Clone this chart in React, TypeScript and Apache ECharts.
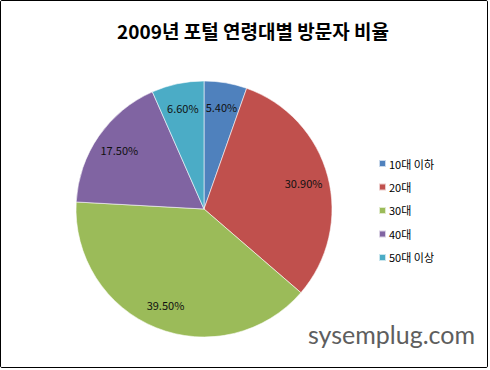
import React, { useEffect, useRef } from "react";
import * as echarts from "echarts";

const titleText = "2009년 포털 연령대별 방문자 비율";
const categories = ["10대 이하", "20대", "30대", "40대", "50대 이상"];
const values = [5.4, 30.9, 39.5, 17.5, 6.6];
const colors = ["#4F81BD", "#C0504D", "#9BBB59", "#8064A2", "#4BACC6"];
const watermark = "sysemplug.com";

export default function App() {
  const ref = useRef<HTMLDivElement>(null);
  useEffect(() => {
    if (!ref.current) return;
    const chart = echarts.init(ref.current, undefined, { renderer: "svg" });
    const data = categories.map((name, i) => ({
      name,
      value: values[i],
      itemStyle: { color: colors[i] },
    }));
    const font = "'Noto Sans CJK KR', 'Noto Sans', sans-serif";
    chart.setOption({
      animation: false,
      backgroundColor: "#ffffff",
      title: {
        text: titleText,
        left: 248,
        textAlign: "center",
        top: 16,
        textStyle: { fontFamily: font, fontSize: 19, fontWeight: "bold", color: "#000" },
      },
      legend: {
        orient: "vertical",
        left: 373,
        top: 153,
        itemWidth: 7,
        itemHeight: 7,
        itemGap: 12.5,
        icon: "rect",
        data: categories,
        textStyle: { fontFamily: font, fontSize: 11, color: "#000", padding: [0, 0, 0, -2] },
      },
      graphic: [
        {
          type: "text",
          left: 308,
          top: 321,
          style: {
            text: watermark,
            fontFamily: "Lato, 'Open Sans', sans-serif",
            fontSize: 25,
            fill: "#5e5e5e",
            shadowColor: "rgba(0,0,0,0.35)",
            shadowBlur: 3,
            shadowOffsetX: 1,
            shadowOffsetY: 1,
          },
        },
      ],
      series: [
        {
          type: "pie",
          center: [204, 209],
          radius: [0, 128],
          startAngle: 90,
          clockwise: true,
          label: { show: false },
          labelLine: { show: false },
          itemStyle: { borderColor: "rgba(255,255,255,0.7)", borderWidth: 0.8 },
          emphasis: { disabled: true },
          data,
        },
        {
          type: "pie",
          center: [204, 209],
          radius: [72, 128],
          startAngle: 90,
          clockwise: true,
          silent: true,
          legendHoverLink: false,
          itemStyle: { color: "rgba(0,0,0,0)" },
          label: {
            show: true,
            position: "inside",
            formatter: (p: any) => p.value.toFixed(2) + "%",
            fontFamily: font,
            fontSize: 11,
            color: "#111",
          },
          labelLine: { show: false },
          emphasis: { disabled: true },
          data: categories.map((name, i) => ({ name, value: values[i] })),
        },
      ],
    });
    return () => chart.dispose();
  }, []);
  return (
    <div
      style={{
        position: "fixed",
        left: 0,
        top: 0,
        width: 488,
        height: 368,
        border: "1px solid #000",
        borderRadius: 2,
        boxSizing: "border-box",
        overflow: "hidden",
        background: "#fff",
      }}
    >
      <div ref={ref} style={{ position: "absolute", left: -1, top: -1, width: 490, height: 370 }} />
    </div>
  );
}
